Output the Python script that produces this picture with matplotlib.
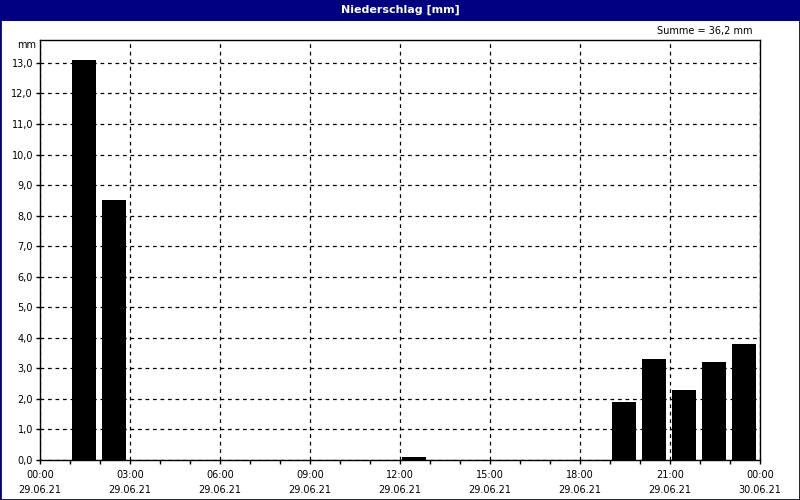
import matplotlib.pyplot as plt
from matplotlib.patches import Rectangle

# hourly precipitation for 29.06.21, mm per hour (hour 0 = 00:00-01:00)
hours = list(range(24))
rain_mm = [0, 13.1, 8.5, 0, 0, 0, 0, 0, 0, 0, 0, 0,
           0.1, 0, 0, 0, 0, 0, 0, 1.9, 3.3, 2.3, 3.2, 3.8]
tick_hours = [0, 3, 6, 9, 12, 15, 18, 21, 24]
tick_labels = ["00:00\n29.06.21", "03:00\n29.06.21", "06:00\n29.06.21",
               "09:00\n29.06.21", "12:00\n29.06.21", "15:00\n29.06.21",
               "18:00\n29.06.21", "21:00\n29.06.21", "00:00\n30.06.21"]
y_ticks = [float(v) for v in range(14)]

navy = "#000080"
fs = 7

fig = plt.figure(figsize=(8, 5), dpi=100, facecolor="white")
ax = fig.add_axes([0.05, 0.08, 0.90, 0.84])

# bars sit inside their hour slot, slightly right of the tick
ax.bar([h + 0.067 for h in hours], rain_mm, width=0.8, align="edge",
       color="black", zorder=3)

ax.set_xlim(0, 24)
ax.set_ylim(0, 13.75)
ax.set_xticks(tick_hours)
ax.set_xticklabels(tick_labels, fontsize=fs, linespacing=1.6)
ax.set_xticks(hours, minor=True)
ax.set_yticks(y_ticks)
ax.set_yticklabels([f"{v:.1f}".replace(".", ",") for v in y_ticks], fontsize=fs)
ax.tick_params(axis="both", which="both", direction="out", length=3,
               width=1, color="black", pad=2)
ax.tick_params(axis="x", which="major", pad=4)

ax.grid(True, which="major", color="black", linestyle=(0, (3, 3)),
        linewidth=0.9, zorder=1)
ax.set_axisbelow(True)
for sp in ax.spines.values():
    sp.set_color("black")
    sp.set_linewidth(1)

ax.text(-0.005, 1.0 - 5 / 420, "mm", transform=ax.transAxes, ha="right",
        va="center", fontsize=fs)
ax.text(0.99, 1.0 + 9 / 420, "Summe = 36,2 mm", transform=ax.transAxes,
        ha="right", va="center", fontsize=fs)

# title bar and window frame
fig.patches.append(Rectangle((0, 1 - 21 / 500), 1, 21 / 500, transform=fig.transFigure,
                             facecolor=navy, edgecolor="none", zorder=0))
fig.patches.append(Rectangle((0, 0), 1, 1, transform=fig.transFigure,
                             facecolor="none", edgecolor=navy, linewidth=2, zorder=5))
fig.text(0.5, 1 - 10 / 500, "Niederschlag [mm]", color="white", fontsize=8,
         fontweight="bold", ha="center", va="center")

fig.savefig("out.png", dpi=100, facecolor="white")
